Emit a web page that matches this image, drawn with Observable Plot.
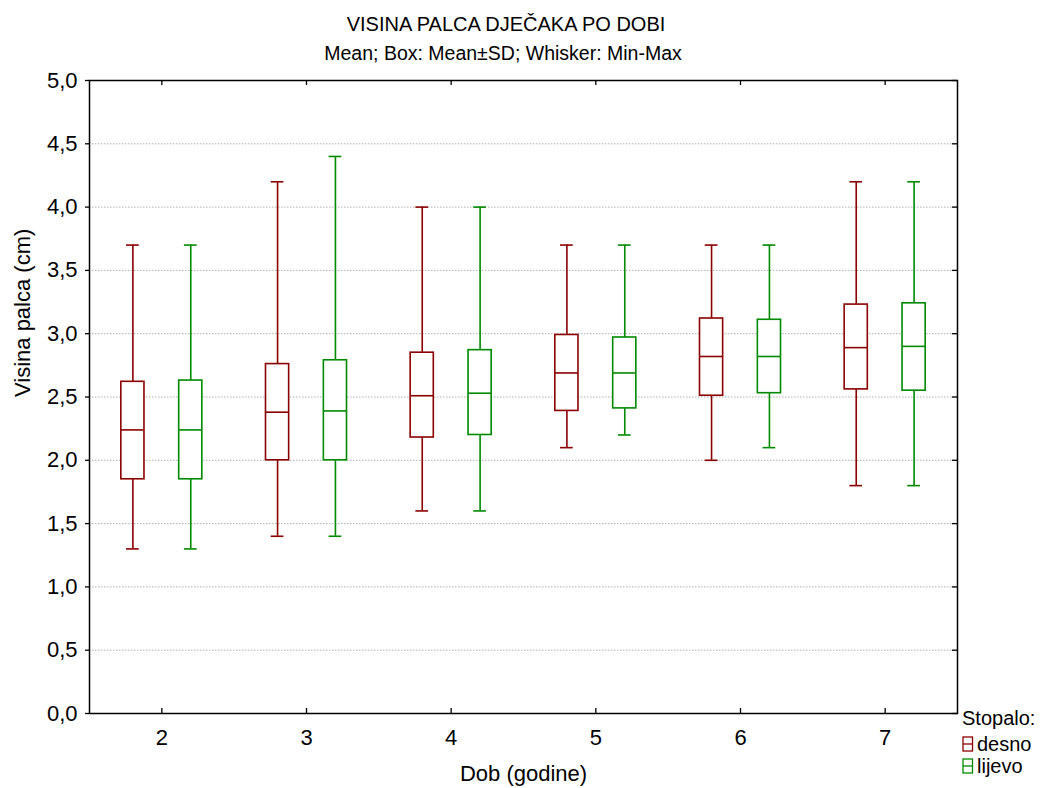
<!DOCTYPE html>
<html>
<head>
<meta charset="utf-8">
<script src="https://cdn.jsdelivr.net/npm/d3@7"></script>
<script src="https://cdn.jsdelivr.net/npm/@observablehq/plot@0.6"></script>
<style>
  html, body { margin: 0; padding: 0; background: #fff; }
  #chart { width: 1051px; height: 788px; }
</style>
</head>
<body>
<div id="chart"></div>
<script>
// ---- data ----
const titleText = "VISINA PALCA DJEČAKA PO DOBI";
const subtitleText = "Mean; Box: Mean±SD; Whisker: Min-Max";
const xLabel = "Dob (godine)";
const yLabel = "Visina palca (cm)";
const legendTitle = "Stopalo:";
const series = ["desno", "lijevo"];
const seriesColors = ["#8b0000", "#008a00"];
const ages = [2, 3, 4, 5, 6, 7];
const yTicks = [0, 0.5, 1, 1.5, 2, 2.5, 3, 3.5, 4, 4.5, 5];

const desnoMean = [2.24, 2.38, 2.51, 2.69, 2.82, 2.89];
const desnoLow  = [1.85, 2.00, 2.18, 2.39, 2.51, 2.56];
const desnoHigh = [2.62, 2.76, 2.85, 2.99, 3.12, 3.23];
const desnoMin  = [1.3, 1.4, 1.6, 2.1, 2.0, 1.8];
const desnoMax  = [3.7, 4.2, 4.0, 3.7, 3.7, 4.2];

const lijevoMean = [2.24, 2.39, 2.53, 2.69, 2.82, 2.90];
const lijevoLow  = [1.85, 2.00, 2.20, 2.41, 2.53, 2.55];
const lijevoHigh = [2.63, 2.79, 2.87, 2.97, 3.11, 3.24];
const lijevoMin  = [1.3, 1.4, 1.6, 2.2, 2.1, 1.8];
const lijevoMax  = [3.7, 4.4, 4.0, 3.7, 3.7, 4.2];

// ---- build table ----
const stats = [
  [desnoMean, desnoLow, desnoHigh, desnoMin, desnoMax],
  [lijevoMean, lijevoLow, lijevoHigh, lijevoMin, lijevoMax]
];
const rows = [];
series.forEach((s, si) => {
  ages.forEach((a, i) => {
    const [m, lo, hi, mn, mx] = stats[si].map(arr => arr[i]);
    rows.push({age: a, side: s, si, mean: m, low: lo, high: hi, min: mn, max: mx});
  });
});

const W = 1051, H = 788;
const mL = 89, mR = 94, mT = 80, mB = 75;
const font = "'Liberation Sans', Arial, sans-serif";
const fs = 22;      // axis text
const fsTitle = 20; // title / subtitle
const fsLegend = 20;

// layout within a group (in x units: one age = one unit)
const off = 0.2, boxHalf = 0.08, capHalf = 0.044;
const cx = d => d.age + (d.si === 0 ? -off : off);
const col = d => seriesColors[d.si];
const frameW = W - mL - mR, frameH = H - mT - mB;
const fmt = d => d.toFixed(1).replace(".", ",");

const plot = Plot.plot({
  width: W, height: H,
  marginLeft: mL, marginRight: mR, marginTop: mT, marginBottom: mB,
  style: {fontFamily: font, fontSize: fs + "px", background: "#fff", color: "#000"},
  x: {domain: [1.5, 7.5]},
  y: {domain: [0, 5]},
  marks: [
    Plot.gridY(yTicks.filter(v => v > 0 && v < 5), {stroke: "#b0b0b0", strokeOpacity: 1, strokeDasharray: "1.5,1.5"}),
    // whiskers
    Plot.ruleX(rows, {x: cx, y1: "min", y2: "max", stroke: col, strokeWidth: 1.6}),
    Plot.ruleY(rows, {y: "min", x1: d => cx(d) - capHalf, x2: d => cx(d) + capHalf, stroke: col, strokeWidth: 1.6}),
    Plot.ruleY(rows, {y: "max", x1: d => cx(d) - capHalf, x2: d => cx(d) + capHalf, stroke: col, strokeWidth: 1.6}),
    // boxes
    Plot.rect(rows, {x1: d => cx(d) - boxHalf, x2: d => cx(d) + boxHalf, y1: "low", y2: "high", fill: "#fff", stroke: col, strokeWidth: 1.6}),
    Plot.ruleY(rows, {y: "mean", x1: d => cx(d) - boxHalf, x2: d => cx(d) + boxHalf, stroke: col, strokeWidth: 1.6}),
    // axes
    Plot.axisY(yTicks, {anchor: "left", tickSize: 4, tickPadding: 8, tickFormat: fmt, label: null, strokeWidth: 1.3, fontSize: fs}),
    Plot.axisX(ages, {anchor: "bottom", tickSize: 0, tickPadding: 16, tickFormat: d => String(d), label: null, fontSize: fs}),
    // inner ticks: right, top, bottom
    Plot.ruleY(yTicks, {y: d => d, insetLeft: frameW - 5, stroke: "#000", strokeWidth: 1.3}),
    Plot.ruleX(ages, {x: d => d, insetBottom: frameH - 5, stroke: "#000", strokeWidth: 1.3}),
    Plot.ruleX(ages, {x: d => d, insetTop: frameH - 5, stroke: "#000", strokeWidth: 1.3}),
    Plot.frame({stroke: "#000", strokeWidth: 1.5}),
    // axis labels
    Plot.text([yLabel], {frameAnchor: "left", dx: -67, rotate: -90, fontSize: fs, fill: "#000"}),
    Plot.text([xLabel], {frameAnchor: "bottom", dy: 60, lineAnchor: "middle", fontSize: fs, fill: "#000"})
  ]
});
document.getElementById("chart").appendChild(plot);

// titles & legend
const svg = d3.select(plot);
svg.append("text").attr("x", 506).attr("y", 31).attr("text-anchor", "middle")
  .attr("font-family", font).attr("font-size", fsTitle).attr("fill", "#000").text(titleText);
svg.append("text").attr("x", 503).attr("y", 60).attr("text-anchor", "middle")
  .attr("font-family", font).attr("font-size", fsTitle - 0.5).attr("fill", "#000").text(subtitleText);

const lg = svg.append("g").attr("font-family", font).attr("font-size", fsLegend).attr("fill", "#000")
  .attr("text-anchor", "start");
lg.append("text").attr("x", 962).attr("y", 725).attr("text-anchor", "start").text(legendTitle);
series.forEach((s, i) => {
  const y0 = 737 + i * 22;
  lg.append("rect").attr("x", 963).attr("y", y0).attr("width", 9.5).attr("height", 14)
    .attr("fill", "#fff").attr("stroke", seriesColors[i]).attr("stroke-width", 1.3);
  lg.append("line").attr("x1", 963).attr("x2", 972.5).attr("y1", y0 + 7).attr("y2", y0 + 7)
    .attr("stroke", seriesColors[i]).attr("stroke-width", 1.3);
  lg.append("text").attr("x", 977).attr("y", y0 + 14).attr("text-anchor", "start").text(s);
});
</script>
</body>
</html>
